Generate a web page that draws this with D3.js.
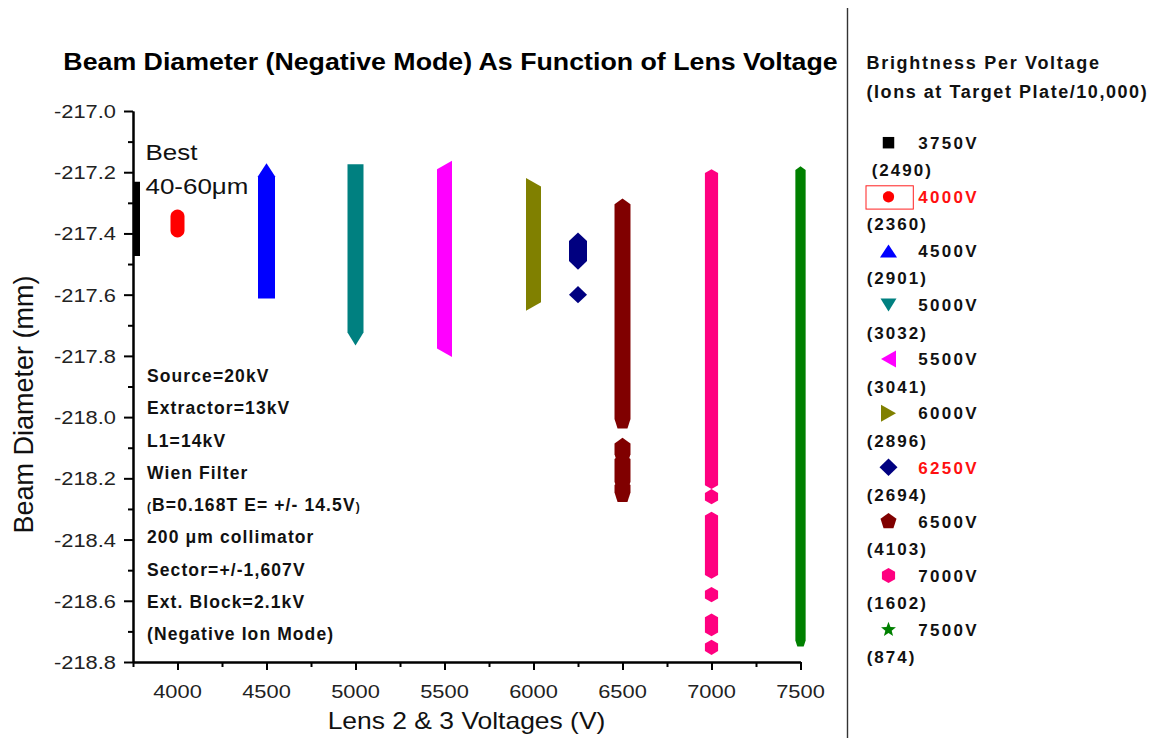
<!DOCTYPE html>
<html><head><meta charset="utf-8">
<script src="https://cdn.jsdelivr.net/npm/d3@7"></script>
<style>
html,body{margin:0;padding:0;background:#fff;}
svg{display:block;font-family:"Liberation Sans",Arial,sans-serif;}
</style></head><body>
<svg id="chart" width="1156" height="738"></svg>
<script>
// Lens 2 & 3 voltage settings (V) and brightness (ions at target plate / 10,000)
const voltages   = [3750, 4000, 4500, 5000, 5500, 6000, 6250, 6500, 7000, 7500];
const brightness = [2490, 2360, 2901, 3032, 3041, 2896, 2694, 4103, 1602, 874];
const highlighted = [4000, 6250];
const markerShapes = ["square", "circle", "triangleUp", "triangleDown", "triangleLeft",
                      "triangleRight", "diamond", "pentagon", "hexagon", "star"];
const markerColors = ["#000000", "#ff0000", "#0000ff", "#008080", "#ff00ff",
                      "#808000", "#000080", "#800000", "#ff0080", "#008000"];

// Beam diameter readings (mm): each pair is the first and last value of a
// contiguous run of measurements at that voltage.
const runs3750 = [[-217.254, -217.451]];
const runs4000 = [[-217.345, -217.390]];
const runs4500 = [[-217.192, -217.591]];
const runs5000 = [[-217.195, -217.745]];
const runs5500 = [[-217.190, -217.776]];
const runs6000 = [[-217.247, -217.625]];
const runs6250 = [[-217.425, -217.490], [-217.600, -217.600]];
const runs6500 = [[-217.313, -218.015], [-218.095, -218.130], [-218.145, -218.220], [-218.230, -218.255]];
const runs7000 = [[-217.215, -218.210], [-218.260, -218.260], [-218.334, -218.503], [-218.580, -218.580],
                  [-218.666, -218.666], [-218.691, -218.691], [-218.752, -218.752]];
const runs7500 = [[-217.198, -218.735]];
const seriesRuns = [runs3750, runs4000, runs4500, runs5000, runs5500,
                    runs6000, runs6250, runs6500, runs7000, runs7500];

const xDomain = [3750, 7500];
const yDomain = [-218.8, -217.0];
const xTicks = [4000, 4500, 5000, 5500, 6000, 6500, 7000, 7500];
const xMinorTicks = [3750, 4250, 4750, 5250, 5750, 6250, 6750, 7250];
const yTicks = [-217.0, -217.2, -217.4, -217.6, -217.8, -218.0, -218.2, -218.4, -218.6, -218.8];
const yTickLabels = ["-217.0", "-217.2", "-217.4", "-217.6", "-217.8", "-218.0", "-218.2", "-218.4", "-218.6", "-218.8"];
const yMinorTicks = [-217.1, -217.3, -217.5, -217.7, -217.9, -218.1, -218.3, -218.5, -218.7];

const chartTitle = "Beam Diameter (Negative Mode) As Function of Lens Voltage";
const xTitle = "Lens 2 & 3 Voltages (V)";
const yTitle = "Beam Diameter (mm)";
const bestNote = ["Best", "40-60\u03bcm"];
// conditions block; segments flagged true are set in a smaller size
const conditions = [
  [["Source=20kV", false]],
  [["Extractor=13kV", false]],
  [["L1=14kV", false]],
  [["Wien Filter", false]],
  [["(", true], ["B=0.168T E= +/- 14.5V", false], [")", true]],
  [["200 \u03bcm collimator", false]],
  [["Sector=+/-1,607V", false]],
  [["Ext. Block=2.1kV", false]],
  [["(Negative Ion Mode)", false]]
];
const legendTitle = ["Brightness Per Voltage", "(Ions at Target Plate/10,000)"];

const svg = d3.select("#chart");
svg.append("rect").attr("width", 1156).attr("height", 738).attr("fill", "#fff");

const x = d3.scaleLinear().domain(xDomain).range([133, 800.5]);
const y = d3.scaleLinear().domain(yDomain).range([662, 111]);

// horizontally widened text helper
function label(parent, px, py, str, o) {
  const t = parent.append("text")
    .attr("transform", `translate(${px},${py}) scale(${o.sx || 1},1)`)
    .attr("font-size", o.size)
    .attr("font-weight", o.weight || "normal")
    .attr("text-anchor", o.anchor || "start")
    .attr("fill", o.fill || "#111")
    .style("letter-spacing", (o.ls || 0) + "px")
    .style("white-space", "pre");
  t.text(str);
  return t;
}

// marker outlines, centred on the data point
function shapePoints(shape, k = 1) {
  const poly = (n, r, rot) => d3.range(n).map(i => {
    const a = (rot + i * 360 / n) * Math.PI / 180;
    return [r * Math.cos(a) * k, r * Math.sin(a) * k];
  });
  const sc = arr => arr.map(p => [p[0] * k, p[1] * k]);
  switch (shape) {
    case "square": return sc([[-7, -7], [7, -7], [7, 7], [-7, 7]]);
    case "circle": return poly(28, 7, 0);
    case "triangleUp": return sc([[0, -6.5], [8.5, 6.5], [-8.5, 6.5]]);
    case "triangleDown": return sc([[-8, -6.5], [8, -6.5], [0, 6.5]]);
    case "triangleLeft": return sc([[-7.5, 0], [7.5, -8.5], [7.5, 8.5]]);
    case "triangleRight": return sc([[7.5, 0], [-7.5, -8.5], [-7.5, 8.5]]);
    case "diamond": return sc([[0, -8.7], [9, 0], [0, 8.7], [-9, 0]]);
    case "pentagon": return poly(5, 8.4, -90);
    case "hexagon": return poly(6, 7.6, -90);
    case "star": return d3.range(10).map(i => {
      const r = (i % 2 ? 2.3 : 5.4) * k, a = (-90 + i * 36) * Math.PI / 180;
      return [r * Math.cos(a), r * Math.sin(a)];
    });
  }
}
const pathOf = pts => "M" + pts.map(p => p[0].toFixed(2) + "," + p[1].toFixed(2)).join("L") + "Z";

// ---- data marks ----
svg.append("clipPath").attr("id", "plotClip")
  .append("rect").attr("x", 133).attr("y", 0).attr("width", 1020).attr("height", 662);
const marks = svg.append("g").attr("clip-path", "url(#plotClip)");

voltages.forEach((v, i) => {
  const base = shapePoints(markerShapes[i]);
  const cx = x(v);
  seriesRuns[i].forEach(([a, b]) => {
    let pts;
    if (a === b) {
      pts = base.map(p => [cx + p[0], y(a) + p[1]]);
    } else {
      const all = base.map(p => [cx + p[0], y(a) + p[1]])
        .concat(base.map(p => [cx + p[0], y(b) + p[1]]));
      pts = d3.polygonHull(all);
    }
    marks.append("path").attr("d", pathOf(pts)).attr("fill", markerColors[i]);
  });
});

// ---- axes ----
const axisStyle = g => {
  g.select(".domain").attr("stroke", "#000").attr("stroke-width", 2);
  g.selectAll(".tick line").attr("stroke", "#000").attr("stroke-width", 2);
};
svg.append("g").attr("transform", "translate(0,662)")
  .call(d3.axisBottom(x).tickValues(xTicks).tickSize(8).tickSizeOuter(0).tickFormat(""))
  .call(axisStyle);
svg.append("g").attr("transform", "translate(0,662)")
  .call(d3.axisBottom(x).tickValues(xMinorTicks).tickSize(5).tickSizeOuter(0).tickFormat(""))
  .call(axisStyle);
svg.append("g").attr("transform", "translate(133,0)")
  .call(d3.axisLeft(y).tickValues(yTicks).tickSize(9).tickSizeOuter(0).tickFormat(""))
  .call(axisStyle);
svg.append("g").attr("transform", "translate(133,0)")
  .call(d3.axisLeft(y).tickValues(yMinorTicks).tickSize(5).tickSizeOuter(0).tickFormat(""))
  .call(axisStyle);

xTicks.forEach(v => label(svg, x(v), 698, String(v), { size: 19, sx: 1.15, anchor: "middle", fill: "#222" }));
yTicks.forEach((v, i) => label(svg, 116, y(v) + 7, yTickLabels[i], { size: 19, sx: 1.15, anchor: "end", fill: "#222" }));

// titles
label(svg, 450.5, 70, chartTitle, { size: 24, sx: 1.115, weight: "bold", anchor: "middle", fill: "#000" });
label(svg, 466.5, 729, xTitle, { size: 23, sx: 1.15, anchor: "middle", fill: "#111" });
svg.append("text").attr("transform", "translate(33,404.5) rotate(-90)")
  .attr("font-size", 27).attr("text-anchor", "middle").attr("fill", "#111").text(yTitle);

// notes inside the plot
label(svg, 145.5, 159.5, bestNote[0], { size: 22, sx: 1.18, fill: "#111" });
label(svg, 145.5, 194, bestNote[1], { size: 22, sx: 1.18, fill: "#111" });

conditions.forEach((segs, i) => {
  const t = svg.append("text")
    .attr("transform", `translate(147,${382 + i * 32.25})`)
    .attr("font-size", 17.5).attr("font-weight", "bold").attr("fill", "#111")
    .style("letter-spacing", "1.1px");
  segs.forEach(([s, small]) => t.append("tspan").attr("font-size", small ? 12 : null).text(s));
});

// ---- legend panel ----
svg.append("line").attr("x1", 847.5).attr("x2", 847.5).attr("y1", 8).attr("y2", 738)
  .attr("stroke", "#333").attr("stroke-width", 1.4);
label(svg, 866.5, 68.5, legendTitle[0], { size: 18, weight: "bold", ls: 1.7, fill: "#111" });
label(svg, 866.5, 98, legendTitle[1], { size: 18, weight: "bold", ls: 1.55, fill: "#111" });

const legendScale = { square: 0.82, circle: 0.8, star: 1.45 };
voltages.forEach((v, i) => {
  const cy = 142.7 + i * 54.1;
  const pts = shapePoints(markerShapes[i], legendScale[markerShapes[i]] || 1);
  svg.append("path").attr("d", pathOf(pts.map(p => [888.5 + p[0], cy + p[1]])))
    .attr("fill", markerColors[i]);
  const hot = highlighted.includes(v);
  label(svg, 918.3, cy + 6.2, v + "V", { size: 17, weight: "bold", ls: 2.3, fill: hot ? "#ff1010" : "#111" });
  label(svg, i === 0 ? 871.7 : 866.7, cy + 33.5, "(" + brightness[i] + ")", { size: 17, weight: "bold", ls: 2, fill: "#111" });
  if (v === 4000) {
    svg.append("rect").attr("x", 866).attr("y", cy - 11).attr("width", 47.3).attr("height", 23.3)
      .attr("fill", "none").attr("stroke", "#ff2020").attr("stroke-width", 1);
  }
});
</script>
</body></html>
